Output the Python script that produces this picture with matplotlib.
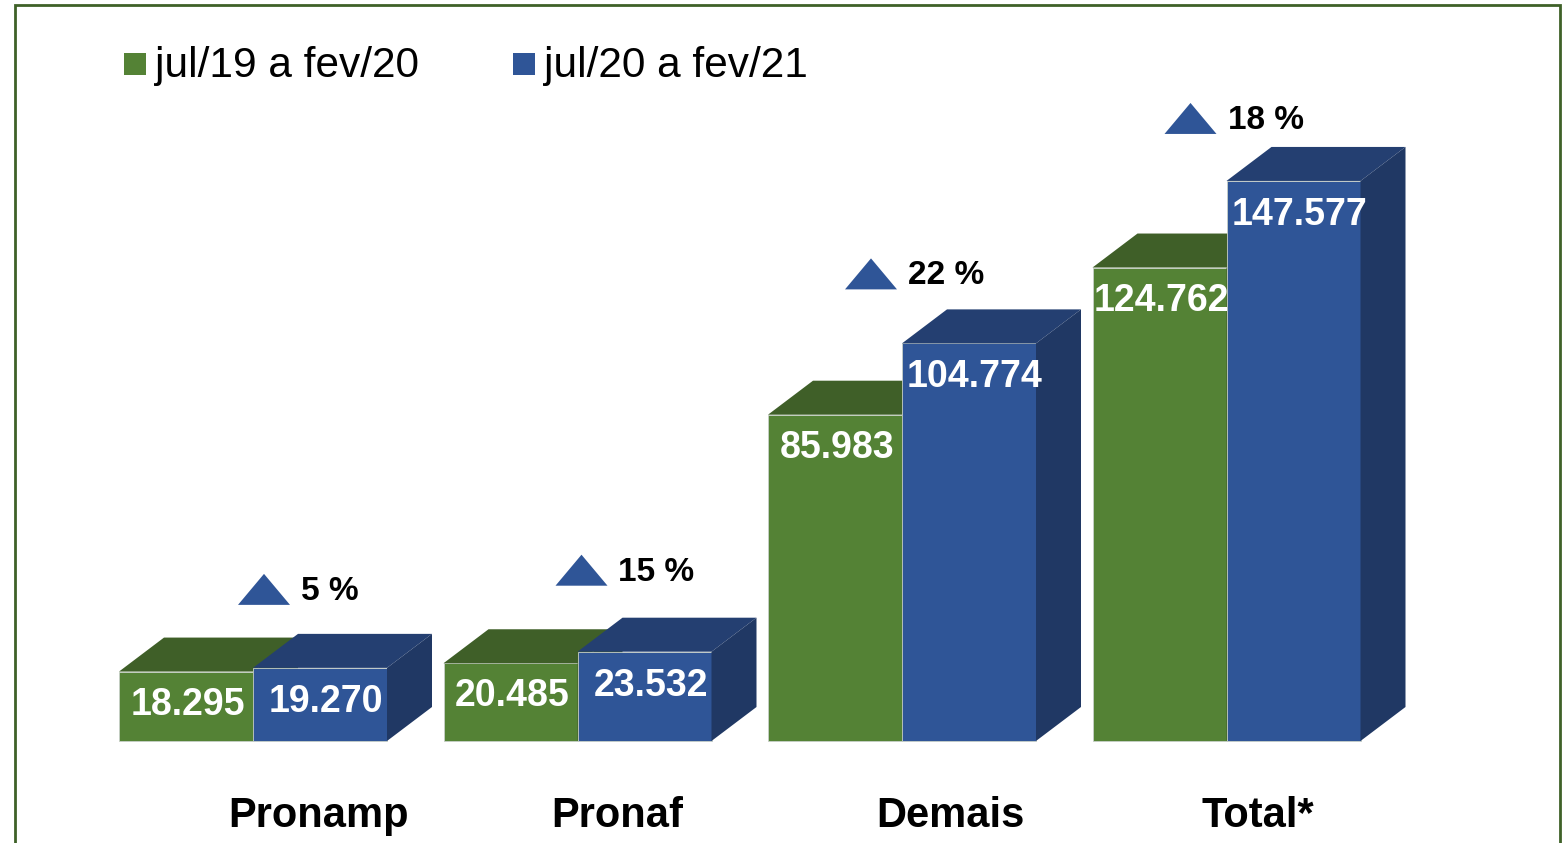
import matplotlib.pyplot as plt
from matplotlib.patches import Polygon, Rectangle

plt.rcParams['font.family'] = ['Liberation Sans', 'DejaVu Sans']

# data (R$ milhões)
categories = ['Pronamp', 'Pronaf', 'Demais', 'Total*']
series_names = ['jul/19 a fev/20', 'jul/20 a fev/21']
values_1920 = [18295, 20485, 85983, 124762]
values_2021 = [19270, 23532, 104774, 147577]

green = '#548235'
green_top = '#3f5f28'
blue = '#2f5597'
blue_top = '#243f71'
blue_side = '#203864'

W, H = 1562, 843
fig = plt.figure(figsize=(W / 100, H / 100), dpi=100)
ax = fig.add_axes([0, 0, 1, 1])

# pixel geometry of the original
x0_px, step_px = 253, 324.5      # centre of first group, spacing of groups
base_px, scale = 741, 0.003795   # baseline pixel row, px per unit
ax.set_xlim(-x0_px / step_px, (W - x0_px) / step_px)
ax.set_ylim(-(H - base_px) / scale, base_px / scale)
ax.axis('off')

bw = 134 / step_px          # bar width
dx = 45 / step_px           # depth offset x
dy = 34 / scale             # depth offset y
px_y = 1 / scale            # one pixel in y units
px_x = 1 / step_px


def bar3d(x, h, front, top, side, z):
    ax.bar(x, h, width=bw, align='edge', color=front, edgecolor='#c8d0c8',
           linewidth=0.6, zorder=z)
    ax.add_patch(Polygon([(x, h), (x + bw, h), (x + bw + dx, h + dy), (x + dx, h + dy)],
                         closed=True, facecolor=top, edgecolor='none', zorder=z))
    ax.add_patch(Polygon([(x + bw, 0), (x + bw + dx, dy), (x + bw + dx, h + dy), (x + bw, h)],
                         closed=True, facecolor=side, edgecolor='none', zorder=z))


fmt = lambda v: f'{v:,}'.replace(',', '.')

label_dx = [65, 40, 48, 31]     # category label shift (px)
tri_dx = [11, 4, -31, -36]      # triangle shift (px)
tri_gap = [29, 32, 20, 13]      # triangle gap above blue bar (px)

for i, (a, b) in enumerate(zip(values_1920, values_2021)):
    xg = i - bw
    xb = i
    bar3d(xg, a, green, green_top, green_top, 2 + i * 2)
    bar3d(xb, b, blue, blue_top, blue_side, 3 + i * 2)
    ax.text(xg + bw / 2 + 2 * px_x, a - 33 * px_y, fmt(a), ha='center', va='center',
            color='white', fontsize=27, fontweight='bold', zorder=20)
    ax.text(xb + bw / 2 + 6 * px_x, b - 34 * px_y, fmt(b), ha='center', va='center',
            color='white', fontsize=27, fontweight='bold', zorder=20)
    ax.text(i + label_dx[i] * px_x, -75 * px_y, categories[i], ha='center', va='center',
            fontsize=30, fontweight='bold', color='black')

    # growth triangle
    pct = round((b / a - 1) * 100)
    cx = i + tri_dx[i] * px_x
    yb = b + dy + tri_gap[i] * px_y
    tw, th = 26 * px_x, 31 * px_y
    ax.add_patch(Polygon([(cx - tw, yb), (cx + tw, yb), (cx, yb + th)], closed=True,
                         facecolor=blue, edgecolor='none', zorder=20))
    ax.text(cx + tw + 11 * px_x, yb + th / 2 - 2 * px_y, f'{pct} %', ha='left', va='center',
            fontsize=24, fontweight='bold', color='black')

# legend
for (lx, col, name) in [(124, green, series_names[0]), (513, blue, series_names[1])]:
    fig.patches.append(Rectangle((lx / W, 1 - 75 / H), 22 / W, 22 / H, transform=fig.transFigure,
                                 facecolor=col, edgecolor='none'))
    fig.text((lx + 31) / W, 1 - 66 / H, name, ha='left', va='center', fontsize=30.5, color='black')

# frame
fig.patches.append(Rectangle((15 / W, -0.05), (1560 - 15) / W, 1.05 - 5 / H,
                             transform=fig.transFigure, fill=False,
                             edgecolor='#3f6128', linewidth=2))

plt.savefig('out.png', dpi=100)
